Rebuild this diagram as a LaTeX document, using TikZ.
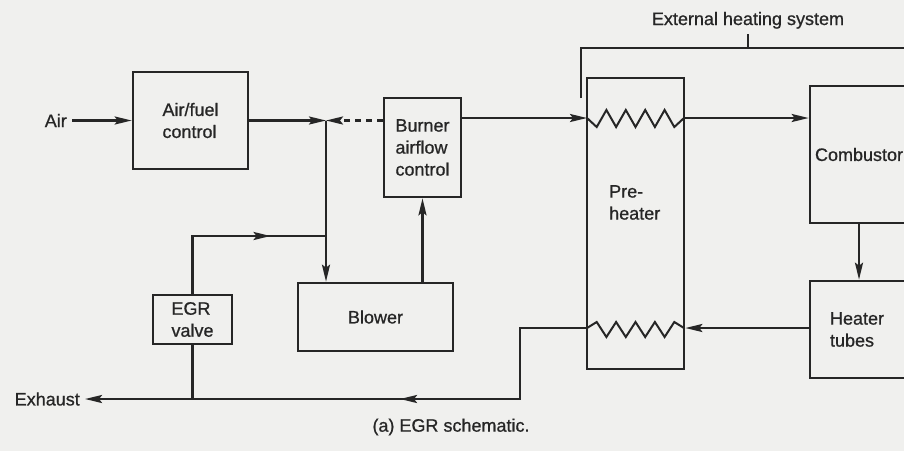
\documentclass[tikz,border=0pt]{standalone}
\usepackage{fontspec}
\setmainfont[FakeBold=0.8]{Liberation Sans}
\usetikzlibrary{arrows.meta,decorations.markings}

\definecolor{papir}{RGB}{240,240,238}
\definecolor{tus}{RGB}{38,38,38}

\tikzset{
  box/.style={draw=tus, line width=2.6pt, align=left, inner sep=0pt},
  lbl/.style={inner sep=4pt},
  arr/.style={-{Stealth[length=17pt,width=8pt,inset=3pt]}},
  midarr/.style={postaction={decorate},
    decoration={markings, mark=at position #1 with {\arrow{Stealth[length=17pt,width=8pt,inset=3pt]}}}},
}

\begin{document}
\begin{tikzpicture}[x=1pt, y=-1pt, line width=2.4pt, color=tus,
    font=\fontsize{18}{22}\selectfont]
        \path[use as bounding box, fill=papir] (0,0) rectangle (904,451);
        \clip (0,0) rectangle (904,451);

        % bloky
        \node[box, minimum width=115pt, minimum height=97pt] (afc) at (190.5,120.5) {Air/fuel\\control};
        \node[box, minimum width=77pt, minimum height=99pt] (bac) at (422.5,147.5) {Burner\\airflow\\control};
        \node[box, minimum width=155pt, minimum height=68pt] (blw) at (375.5,317) {Blower};
        \node[box, minimum width=79pt, minimum height=49pt] (egr) at (192.5,319.5) {EGR\\valve};
        \node[box, minimum width=97pt, minimum height=291pt] (pre) at (635.5,223.5) {};
        \node[lbl, align=left, anchor=north west] (prelbl) at (604,180) {Pre-\\heater};
        \node[box, minimum height=137pt, text width=110pt, inner xsep=5pt] (comb) at (870,154.5) {Combustor};
        \node[box, minimum height=97pt, text width=80pt, inner xsep=20pt] (heat) at (870,329.5) {Heater\\tubes};

        % popisky
        \node[lbl, anchor=east] (air) at (72,120.5) {Air};
        \node[lbl, anchor=east] (exh) at (85,399) {Exhaust};
        \node[lbl, anchor=base] (ehs) at (748,25) {External heating system};
        \node[lbl] (cap) at (451,427) {(a) EGR schematic.};

        % body
        \coordinate (j1) at (326,120.5);
        \coordinate (j2) at (326,236);
        \coordinate (zt) at (587,118);
        \coordinate (zb) at (587,328);
        \coordinate (ohyb) at (520,399);
        \coordinate (rez) at (280,399);
        \coordinate (cx) at (859,0);
        \coordinate (sl) at (581,98);
        \coordinate (sr) at (910,48);

        % vzduch a EGR
        \draw[arr] (air) -- (afc);
        \draw[arr] (afc) -- (j1);
        \draw[arr, dash pattern=on 6pt off 5pt] (bac.west |- j1) -- (j1);
        \draw[arr] (j1) -- (j1 |- blw.north);
        \draw[midarr=0.71] (egr.north) |- (j2);
        \draw[arr] (bac.south |- blw.north) -- (bac.south);
        \draw[arr] (bac.east |- zt) -- (zt);

        % ohrev
        \draw[line width=2pt] (zt) -- ++(9.7,9) -- ++(9.7,-17) -- ++(9.7,17) -- ++(9.7,-17)
          -- ++(9.7,17) -- ++(9.7,-17) -- ++(9.7,17) -- ++(9.7,-17) -- ++(9.7,17) -- ++(9.7,-9);
        \draw[arr] (pre.east |- zt) -- (comb.west |- zt);
        \draw[arr] (cx |- comb.south) -- (cx |- heat.north);
        \draw[arr] (heat.west |- zb) -- (pre.east |- zb);
        \draw[line width=2pt] (zb) -- ++(9.7,-6) -- ++(9.7,15) -- ++(9.7,-15) -- ++(9.7,15)
          -- ++(9.7,-15) -- ++(9.7,15) -- ++(9.7,-15) -- ++(9.7,15) -- ++(9.7,-15) -- ++(9.7,6);

        % vyfuk
        \draw[arr] (zb) -| (ohyb) -- (exh);
        \draw (egr.south) -- (egr.south |- ohyb);

        % externi system
        \draw (sl) |- (sr);
        \draw (ehs.south |- sr) -- (ehs.south);

        % sipka na vyfuku
        \draw[midarr=0.5] (ohyb) -- (rez);
\end{tikzpicture}
\end{document}
